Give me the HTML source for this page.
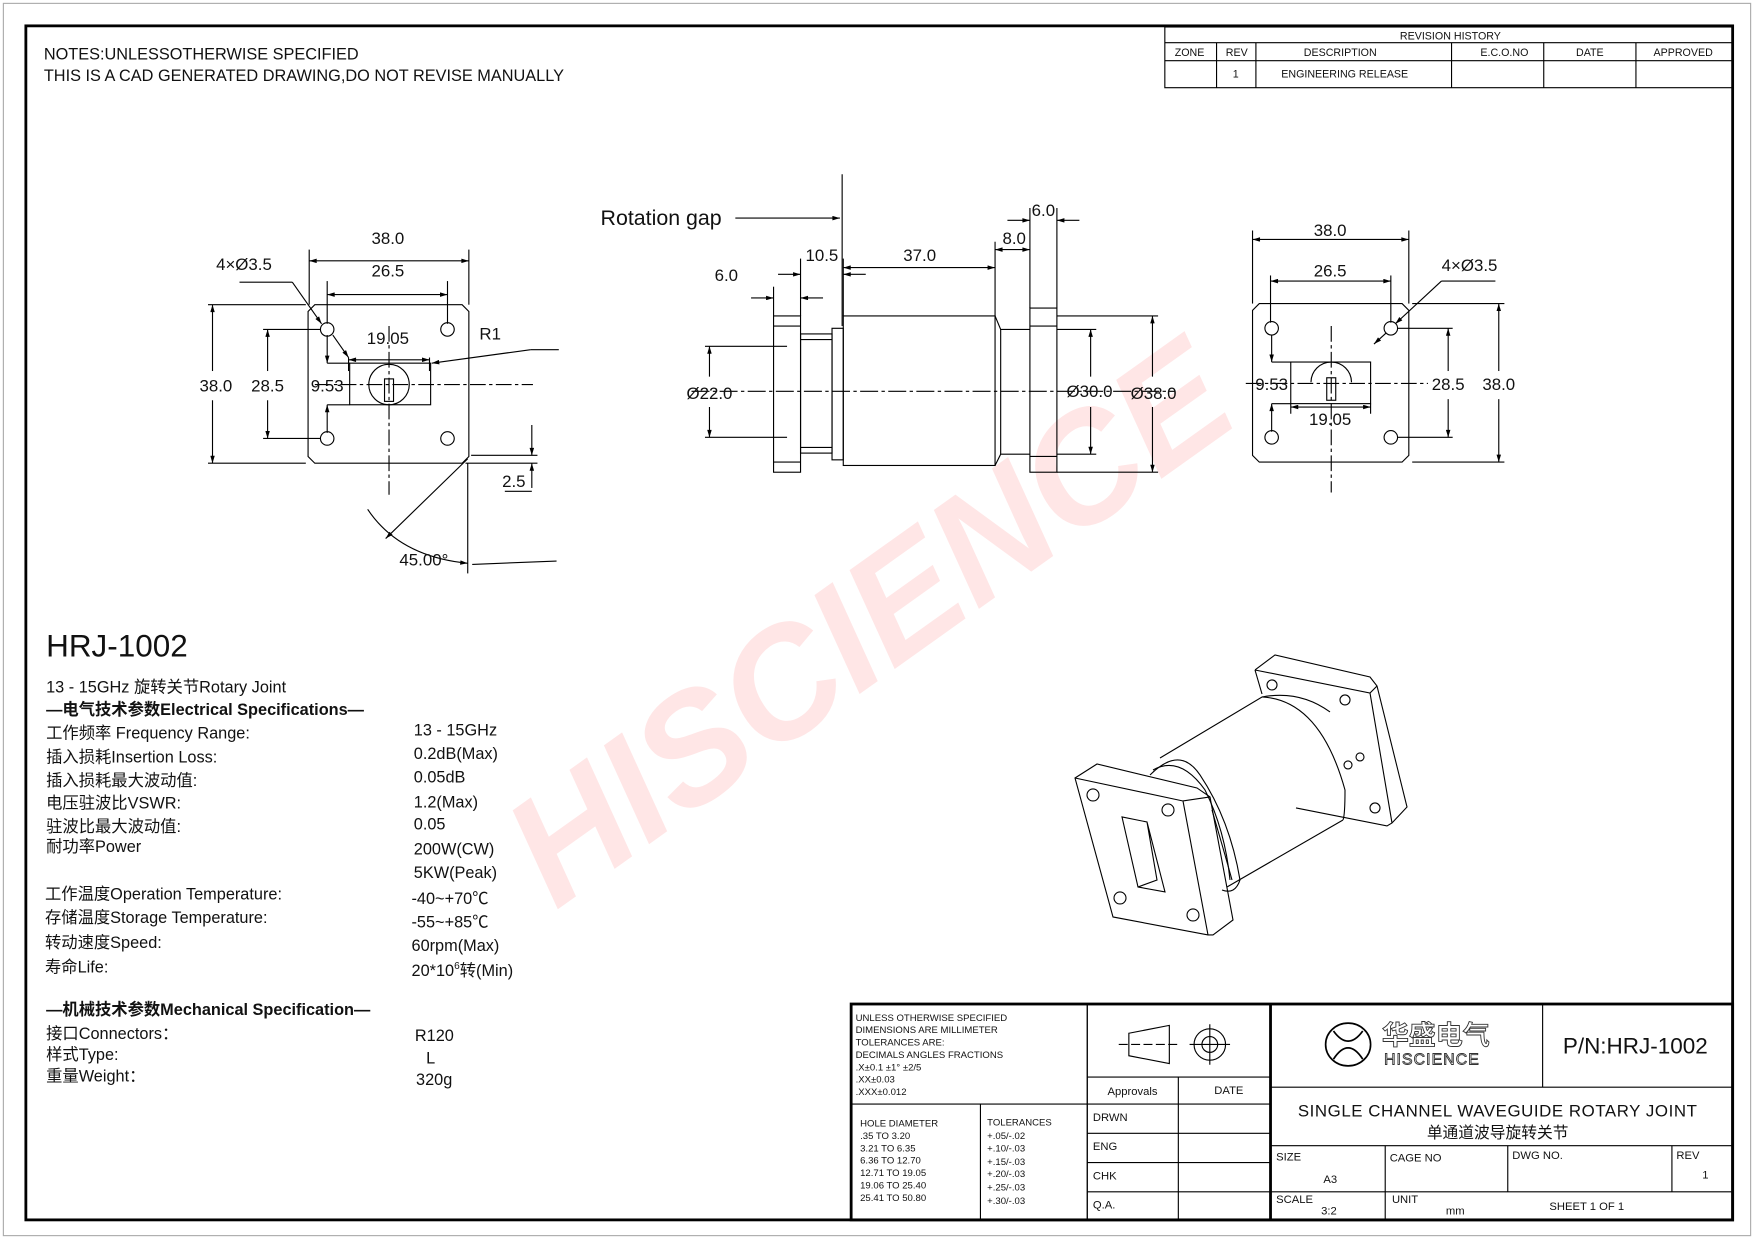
<!DOCTYPE html>
<html><head><meta charset="utf-8"><style>
html,body{margin:0;padding:0;background:#fff;}
svg{display:block;}
text{font-family:"Liberation Sans","Noto Sans CJK SC",sans-serif;fill:#111;}
</style></head><body>
<svg width="1754" height="1239" viewBox="0 0 1560 1102" preserveAspectRatio="none" xmlns="http://www.w3.org/2000/svg">
<defs>
<marker id="a" viewBox="0 0 10 6" refX="10" refY="3" markerWidth="10" markerHeight="4" orient="auto-start-reverse" markerUnits="userSpaceOnUse"><path d="M0,0L10,3L0,6z" fill="#000"/></marker>
</defs>
<rect x="3" y="3" width="1554" height="1096" fill="none" stroke="#aaa" stroke-width="1"/>
<rect x="23" y="23" width="1518" height="1062" fill="none" stroke="#000" stroke-width="2.5"/>

<!-- watermark -->
<text x="0" y="0" transform="translate(800,592) rotate(-35.5)" text-anchor="middle" font-size="138" font-weight="bold" font-style="italic" style="fill:rgba(255,60,60,0.13)">HISCIENCE</text>

<text x="39" y="53" font-size="14.5">NOTES:UNLESSOTHERWISE SPECIFIED</text>
<text x="39" y="72" font-size="14.5">THIS IS A CAD GENERATED DRAWING,DO NOT REVISE MANUALLY</text>

<!-- revision table -->
<g stroke="#000" stroke-width="1" fill="none">
<rect x="1036" y="24" width="505" height="54"/>
<line x1="1036" y1="38" x2="1541" y2="38"/><line x1="1036" y1="54" x2="1541" y2="54"/>
<line x1="1082" y1="38" x2="1082" y2="78"/><line x1="1117" y1="38" x2="1117" y2="78"/><line x1="1291" y1="38" x2="1291" y2="78"/><line x1="1373" y1="38" x2="1373" y2="78"/><line x1="1455" y1="38" x2="1455" y2="78"/>
</g>
<g font-size="9.5" text-anchor="middle">
<text x="1290" y="35">REVISION HISTORY</text>
<text x="1058" y="50">ZONE</text><text x="1100" y="50">REV</text><text x="1192" y="50">DESCRIPTION</text><text x="1338" y="50">E.C.O.NO</text><text x="1414" y="50">DATE</text><text x="1497" y="50">APPROVED</text>
<text x="1099" y="69">1</text><text x="1196" y="69">ENGINEERING RELEASE</text>
</g>

<!-- LEFT VIEW -->
<g stroke="#000" stroke-width="1" fill="none">
<path d="M280,271H411L417,277V406L411,412H280L274,406V277Z"/>
<circle cx="291" cy="293" r="6"/><circle cx="398" cy="293" r="6"/><circle cx="291" cy="390" r="6"/><circle cx="398" cy="390" r="6"/>
<rect x="311" y="323" width="72" height="37"/>
<circle cx="346" cy="342" r="18"/>
<rect x="342" y="337" width="8" height="20"/>
<line x1="280" y1="342" x2="474" y2="342" stroke-dasharray="14,3,3,3"/>
<line x1="346" y1="290" x2="346" y2="440" stroke-dasharray="14,3,3,3"/>
<line x1="275" y1="271" x2="275" y2="222"/><line x1="417" y1="271" x2="417" y2="222"/>
<line x1="275" y1="232" x2="417" y2="232" marker-start="url(#a)" marker-end="url(#a)"/>
<line x1="291" y1="288" x2="291" y2="250"/><line x1="398" y1="288" x2="398" y2="250"/>
<line x1="291" y1="262" x2="398" y2="262" marker-start="url(#a)" marker-end="url(#a)"/>
<line x1="185" y1="271" x2="272" y2="271"/><line x1="185" y1="412" x2="272" y2="412"/>
<line x1="189" y1="271" x2="189" y2="330" marker-start="url(#a)"/><line x1="189" y1="356" x2="189" y2="412" marker-end="url(#a)"/>
<line x1="234" y1="293" x2="285" y2="293"/><line x1="234" y1="390" x2="285" y2="390"/>
<line x1="238" y1="293" x2="238" y2="330" marker-start="url(#a)"/><line x1="238" y1="356" x2="238" y2="390" marker-end="url(#a)"/>
<line x1="291" y1="298" x2="291" y2="323" marker-end="url(#a)"/><line x1="291" y1="385" x2="291" y2="360" marker-end="url(#a)"/>
<line x1="311" y1="360" x2="291" y2="360"/><line x1="311" y1="323" x2="291" y2="323"/>
<line x1="310" y1="320" x2="382" y2="320" marker-start="url(#a)" marker-end="url(#a)"/>
<line x1="310" y1="318" x2="310" y2="330"/><line x1="382" y1="318" x2="382" y2="330"/>
<line x1="213" y1="251" x2="260" y2="251"/><line x1="260" y1="251" x2="286" y2="288" marker-end="url(#a)"/><line x1="296" y1="298" x2="310" y2="318" marker-end="url(#a)"/>
<line x1="497" y1="311" x2="472" y2="311"/><line x1="472" y1="311" x2="384" y2="323" marker-end="url(#a)"/>
<line x1="419" y1="405" x2="478" y2="405"/><line x1="414" y1="412" x2="478" y2="412"/>
<line x1="473" y1="378" x2="473" y2="405" marker-end="url(#a)"/><line x1="473" y1="434" x2="473" y2="412" marker-end="url(#a)"/>
<line x1="449" y1="437" x2="473" y2="437"/>
<line x1="416" y1="408" x2="343" y2="479" marker-end="url(#a)"/>
<line x1="416" y1="412" x2="416" y2="510"/>
<path d="M327,453 Q355,495 416,501" marker-end="url(#a)"/>
<line x1="495" y1="499" x2="420" y2="502"/>
</g>
<g font-size="15" text-anchor="middle">
<text x="345" y="217">38.0</text><text x="345" y="246">26.5</text>
<text x="217" y="240">4×Ø3.5</text>
<text x="192" y="348">38.0</text><text x="238" y="348">28.5</text><text x="291" y="348">9.53</text>
<text x="345" y="306">19.05</text><text x="436" y="302">R1</text>
<text x="457" y="433">2.5</text><text x="377" y="503">45.00°</text>
</g>

<!-- MIDDLE VIEW -->
<g stroke="#000" stroke-width="1" fill="none">
<rect x="688" y="281" width="24" height="139"/>
<line x1="688" y1="411" x2="712" y2="411"/><line x1="688" y1="290" x2="712" y2="290"/>
<rect x="712" y="297" width="28" height="106"/>
<line x1="712" y1="302" x2="740" y2="302"/><line x1="712" y1="398" x2="740" y2="398"/>
<rect x="740" y="292" width="10" height="117"/>
<rect x="750" y="281" width="135" height="133"/>
<path d="M885,281 L890,293 H916 M885,414 L890,404 H916"/>
<line x1="890" y1="293" x2="890" y2="404"/>
<rect x="916" y="274" width="24" height="146"/>
<line x1="916" y1="290" x2="940" y2="290"/><line x1="916" y1="406" x2="940" y2="406"/>
<line x1="615" y1="348" x2="1045" y2="348" stroke-dasharray="16,3,3,3"/>
<line x1="749" y1="155" x2="749" y2="290"/>
<line x1="654" y1="194" x2="747" y2="194" marker-end="url(#a)"/>
<line x1="627" y1="308" x2="700" y2="308"/><line x1="627" y1="389" x2="700" y2="389"/>
<line x1="631" y1="308" x2="631" y2="335" marker-start="url(#a)"/><line x1="631" y1="362" x2="631" y2="389" marker-end="url(#a)"/>
<line x1="940" y1="293" x2="975" y2="293"/><line x1="940" y1="404" x2="975" y2="404"/>
<line x1="970" y1="293" x2="970" y2="335" marker-start="url(#a)"/><line x1="970" y1="362" x2="970" y2="404" marker-end="url(#a)"/>
<line x1="940" y1="281" x2="1030" y2="281"/><line x1="940" y1="420" x2="1030" y2="420"/>
<line x1="1025" y1="281" x2="1025" y2="335" marker-start="url(#a)"/><line x1="1025" y1="362" x2="1025" y2="420" marker-end="url(#a)"/>
<line x1="688" y1="281" x2="688" y2="255"/><line x1="712" y1="281" x2="712" y2="230"/>
<line x1="668" y1="265" x2="688" y2="265" marker-end="url(#a)"/><line x1="732" y1="265" x2="712" y2="265" marker-end="url(#a)"/>
<line x1="750" y1="281" x2="750" y2="230"/>
<line x1="692" y1="244" x2="712" y2="244" marker-end="url(#a)"/><line x1="770" y1="244" x2="750" y2="244" marker-end="url(#a)"/>
<line x1="885" y1="281" x2="885" y2="215"/>
<line x1="750" y1="238" x2="885" y2="238" marker-start="url(#a)" marker-end="url(#a)"/>
<line x1="916" y1="274" x2="916" y2="185"/><line x1="940" y1="274" x2="940" y2="185"/>
<line x1="885" y1="222" x2="916" y2="222" marker-start="url(#a)" marker-end="url(#a)"/>
<line x1="896" y1="196" x2="916" y2="196" marker-end="url(#a)"/><line x1="960" y1="196" x2="940" y2="196" marker-end="url(#a)"/>
</g>
<g font-size="15" text-anchor="middle">
<text x="588" y="200" font-size="19">Rotation gap</text>
<text x="646" y="250">6.0</text><text x="731" y="232">10.5</text><text x="818" y="232">37.0</text>
<text x="902" y="217">8.0</text><text x="928" y="192">6.0</text>
<text x="631" y="355">Ø22.0</text><text x="969" y="353">Ø30.0</text><text x="1026" y="355">Ø38.0</text>
</g>

<!-- RIGHT VIEW -->
<g stroke="#000" stroke-width="1" fill="none">
<path d="M1120,270H1247L1253,276V405L1247,411H1120L1114,405V276Z"/>
<circle cx="1131" cy="292" r="6"/><circle cx="1237" cy="292" r="6"/><circle cx="1131" cy="389" r="6"/><circle cx="1237" cy="389" r="6"/>
<rect x="1148" y="322" width="71" height="37"/>
<path d="M1166,340 A18,18 0 0 1 1202,340"/>
<rect x="1180" y="336" width="8" height="20"/>
<line x1="1108" y1="341" x2="1270" y2="341" stroke-dasharray="14,3,3,3"/>
<line x1="1184" y1="290" x2="1184" y2="438" stroke-dasharray="14,3,3,3"/>
<line x1="1114" y1="270" x2="1114" y2="205"/><line x1="1253" y1="270" x2="1253" y2="205"/>
<line x1="1114" y1="213" x2="1253" y2="213" marker-start="url(#a)" marker-end="url(#a)"/>
<line x1="1130" y1="287" x2="1130" y2="245"/><line x1="1237" y1="287" x2="1237" y2="245"/>
<line x1="1130" y1="250" x2="1237" y2="250" marker-start="url(#a)" marker-end="url(#a)"/>
<line x1="1256" y1="270" x2="1338" y2="270"/><line x1="1256" y1="411" x2="1338" y2="411"/>
<line x1="1333" y1="270" x2="1333" y2="330" marker-start="url(#a)"/><line x1="1333" y1="355" x2="1333" y2="411" marker-end="url(#a)"/>
<line x1="1243" y1="292" x2="1292" y2="292"/><line x1="1243" y1="389" x2="1292" y2="389"/>
<line x1="1288" y1="292" x2="1288" y2="330" marker-start="url(#a)"/><line x1="1288" y1="355" x2="1288" y2="389" marker-end="url(#a)"/>
<line x1="1131" y1="298" x2="1131" y2="322" marker-end="url(#a)"/><line x1="1131" y1="384" x2="1131" y2="359" marker-end="url(#a)"/>
<line x1="1148" y1="359" x2="1131" y2="359"/><line x1="1148" y1="322" x2="1131" y2="322"/>
<line x1="1148" y1="362" x2="1219" y2="362" marker-start="url(#a)" marker-end="url(#a)"/>
<line x1="1148" y1="359" x2="1148" y2="368"/><line x1="1219" y1="359" x2="1219" y2="368"/>
<line x1="1330" y1="250" x2="1282" y2="250"/><line x1="1282" y1="250" x2="1241" y2="288" marker-end="url(#a)"/>
<line x1="1222" y1="306" x2="1233" y2="296" marker-start="url(#a)"/>
</g>
<g font-size="15" text-anchor="middle">
<text x="1183" y="210">38.0</text><text x="1183" y="246">26.5</text><text x="1307" y="241">4×Ø3.5</text>
<text x="1288" y="347">28.5</text><text x="1333" y="347">38.0</text><text x="1131" y="347">9.53</text><text x="1183" y="378">19.05</text>
</g>

<!-- 3D view (original coords) -->
<g transform="scale(0.8894)" stroke="#000" stroke-width="1.1" fill="none">
<path d="M1255,670 L1275,655 L1370,677 L1377,686 L1407,807 L1392,823 L1387,826 L1296,808"/>
<path d="M1255,670 L1370,693 L1377,686 M1370,693 L1392,823"/>
<path d="M1255,670 L1262,694"/>
<circle cx="1272" cy="685" r="5"/><circle cx="1345" cy="700" r="5"/><circle cx="1375" cy="808" r="5"/><circle cx="1348" cy="765" r="4"/><circle cx="1360" cy="757" r="4"/>
<path d="M1160,758 L1262,697 Q1300,690 1330,712"/>
<path d="M1227,887 L1343,820"/>
<path d="M1262,697 Q1320,700 1345,790 Q1345,815 1343,820"/>
<path d="M1150,775 Q1180,745 1200,775 Q1230,820 1240,880 Q1235,895 1222,890"/>
<path d="M1153,770 Q1180,755 1205,790 Q1225,830 1230,880"/>
<path d="M1075,778 L1097,764 L1197,788 L1210,797 L1233,920 L1213,935 L1208,935 L1113,917 Z"/>
<path d="M1075,778 L1183,801 L1210,797 M1183,801 L1208,935"/>
<path d="M1122,817 L1147,822 L1165,892 L1138,887 Z M1138,887 L1157,880 L1147,822"/>
<circle cx="1093" cy="795" r="6"/><circle cx="1168" cy="810" r="6"/><circle cx="1120" cy="898" r="6"/><circle cx="1193" cy="915" r="6"/>
<path d="M1212,810 L1225,855 L1232,880"/>
</g>

<!-- text block -->
<text x="41" y="584" font-size="28">HRJ-1002</text>
<g font-size="14.5">
<text x="41" y="616">13 - 15GHz 旋转关节Rotary Joint</text>
<text x="41" y="636" font-weight="bold">—电气技术参数Electrical Specifications—</text>
<text x="41" y="657">工作频率 Frequency Range:</text><text x="368" y="654">13 - 15GHz</text>
<text x="41" y="678">插入损耗Insertion Loss:</text><text x="368" y="675">0.2dB(Max)</text>
<text x="41" y="699">插入损耗最大波动值:</text><text x="368" y="696">0.05dB</text>
<text x="41" y="719">电压驻波比VSWR:</text><text x="368" y="718">1.2(Max)</text>
<text x="41" y="740">驻波比最大波动值:</text><text x="368" y="738">0.05</text>
<text x="41" y="758">耐功率Power</text><text x="368" y="760">200W(CW)</text>
<text x="368" y="781">5KW(Peak)</text>
<text x="40" y="800">工作温度Operation Temperature:</text><text x="366" y="804">-40~+70℃</text>
<text x="40" y="821">存储温度Storage Temperature:</text><text x="366" y="825">-55~+85℃</text>
<text x="40" y="843">转动速度Speed:</text><text x="366" y="846">60rpm(Max)</text>
<text x="40" y="865">寿命Life:</text><text x="366" y="868">20*10<tspan font-size="9" dy="-6">6</tspan><tspan dy="6">转(Min)</tspan></text>
<text x="41" y="903" font-weight="bold">—机械技术参数Mechanical Specification—</text>
<text x="41" y="924">接口Connectors：</text><text x="369" y="926">R120</text>
<text x="41" y="943">样式Type:</text><text x="379" y="946">L</text>
<text x="41" y="962">重量Weight：</text><text x="370" y="965">320g</text>
</g>

<!-- title block -->
<g stroke="#000" fill="none">
<rect x="757" y="893" width="784" height="192" stroke-width="2.5"/>
<line x1="967" y1="893" x2="967" y2="1085" stroke-width="1.2"/>
<line x1="1130" y1="893" x2="1130" y2="1085" stroke-width="2.5"/>
<line x1="757" y1="982" x2="1130" y2="982"/>
<line x1="872" y1="982" x2="872" y2="1085"/>
<line x1="967" y1="958" x2="1130" y2="958"/>
<line x1="967" y1="1008" x2="1130" y2="1008"/><line x1="967" y1="1034" x2="1130" y2="1034"/><line x1="967" y1="1060" x2="1130" y2="1060"/>
<line x1="1048" y1="958" x2="1048" y2="1085"/>
<line x1="1130" y1="967" x2="1541" y2="967"/>
<line x1="1372" y1="893" x2="1372" y2="967"/>
<line x1="1130" y1="1019" x2="1541" y2="1019"/>
<line x1="1130" y1="1060" x2="1541" y2="1060"/>
<line x1="1232" y1="1019" x2="1232" y2="1085"/><line x1="1341" y1="1019" x2="1341" y2="1060"/><line x1="1487" y1="1019" x2="1487" y2="1060"/>
<path d="M1004,919 L1040,912 L1040,946 L1004,939 Z" stroke-width="1"/>
<line x1="995" y1="929" x2="1049" y2="929" stroke-dasharray="8,3" stroke-width="1"/>
<circle cx="1076" cy="929" r="14" stroke-width="1"/><circle cx="1076" cy="929" r="7" stroke-width="1"/>
<line x1="1058" y1="929" x2="1094" y2="929" stroke-width="1"/><line x1="1076" y1="911" x2="1076" y2="947" stroke-width="1"/>
<ellipse cx="1199" cy="929" rx="20" ry="19" stroke-width="1.5"/>
<path d="M1186,917 Q1199,935 1212,917 M1186,942 Q1199,922 1212,942" stroke-width="1.5"/>
</g>
<g font-size="8.5">
<text x="761" y="908">UNLESS  OTHERWISE SPECIFIED</text>
<text x="761" y="919">DIMENSIONS ARE MILLIMETER</text>
<text x="761" y="930">TOLERANCES ARE:</text>
<text x="761" y="941">DECIMALS   ANGLES      FRACTIONS</text>
<text x="761" y="952">.X±0.1          ±1°              ±2/5</text>
<text x="761" y="963">.XX±0.03</text>
<text x="761" y="974">.XXX±0.012</text>
<text x="765" y="1002">HOLE DIAMETER</text><text x="765" y="1013">.35 TO 3.20</text><text x="765" y="1024">3.21 TO  6.35</text><text x="765" y="1035">6.36 TO  12.70</text><text x="765" y="1046">12.71 TO 19.05</text><text x="765" y="1057">19.06 TO 25.40</text><text x="765" y="1068">25.41 TO 50.80</text>
<text x="878" y="1001">TOLERANCES</text><text x="878" y="1013">+.05/-.02</text><text x="878" y="1024">+.10/-.03</text><text x="878" y="1036">+.15/-.03</text><text x="878" y="1047">+.20/-.03</text><text x="878" y="1059">+.25/-.03</text><text x="878" y="1071">+.30/-.03</text>
</g>
<g font-size="10">
<text x="985" y="974">Approvals</text><text x="1080" y="973">DATE</text>
<text x="972" y="997">DRWN</text><text x="972" y="1023">ENG</text><text x="972" y="1049">CHK</text><text x="972" y="1075">Q.A.</text>
<text x="1135" y="1032">SIZE</text><text x="1177" y="1052">A3</text><text x="1236" y="1033">CAGE NO</text><text x="1345" y="1031">DWG NO.</text><text x="1491" y="1031">REV</text><text x="1514" y="1048">1</text>
<text x="1135" y="1070">SCALE</text><text x="1175" y="1080">3:2</text><text x="1238" y="1070">UNIT</text><text x="1286" y="1080">mm</text><text x="1378" y="1076">SHEET  1  OF  1</text>
</g>
<text x="1229" y="929" font-size="24" font-weight="bold" style="fill:none;stroke:#333;stroke-width:0.8">华盛电气</text>
<text x="1231" y="947" font-size="14" style="fill:none;stroke:#333;stroke-width:0.8" letter-spacing="1">HISCIENCE</text>
<text x="1390" y="937" font-size="20">P/N:HRJ-1002</text>
<text x="1332" y="993" font-size="15" text-anchor="middle" letter-spacing="0.5">SINGLE  CHANNEL  WAVEGUIDE  ROTARY  JOINT</text>
<text x="1332" y="1012" font-size="14" text-anchor="middle">单通道波导旋转关节</text>
</svg>
</body></html>
